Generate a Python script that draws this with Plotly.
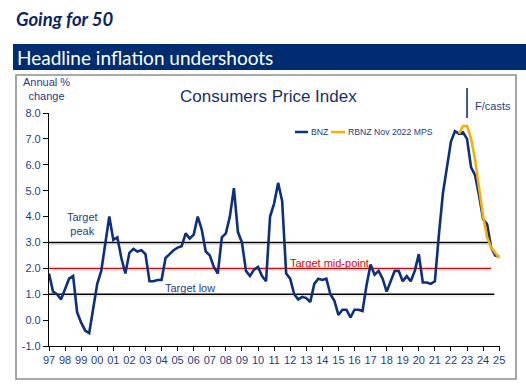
import plotly.graph_objects as go

# ---------------- data ----------------
bnz_start_year = 1997
bnz_values = [
    1.8, 1.1, 1.0, 0.8,      # 1997
    1.2, 1.6, 1.7, 0.3,      # 1998
    -0.1, -0.4, -0.5, 0.4,   # 1999
    1.4, 1.9, 3.0, 4.0,      # 2000
    3.1, 3.2, 2.4, 1.8,      # 2001
    2.6, 2.75, 2.65, 2.7,    # 2002
    2.55, 1.5, 1.5, 1.55,    # 2003
    1.55, 2.4, 2.55, 2.7,    # 2004
    2.8, 2.85, 3.35, 3.15,   # 2005
    3.3, 4.0, 3.5, 2.65,     # 2006
    2.5, 2.05, 1.8, 3.2,     # 2007
    3.35, 4.0, 5.1, 3.4,     # 2008
    3.0, 1.9, 1.7, 1.95,     # 2009
    2.05, 1.7, 1.5, 4.0,     # 2010
    4.5, 5.3, 4.6, 1.8,      # 2011
    1.6, 1.0, 0.8, 0.9,      # 2012
    0.85, 0.7, 1.4, 1.6,     # 2013
    1.55, 1.6, 1.0, 0.75,    # 2014
    0.2, 0.4, 0.4, 0.1,      # 2015
    0.4, 0.4, 0.35, 1.35,    # 2016
    2.15, 1.75, 1.9, 1.6,    # 2017
    1.1, 1.5, 1.9, 1.9,      # 2018
    1.5, 1.7, 1.5, 1.9,      # 2019
    2.55, 1.45, 1.45, 1.4,   # 2020
    1.5, 3.3, 4.9, 5.9,      # 2021
    6.9, 7.3, 7.2, 7.25,     # 2022
    7.0, 5.9, 5.6, 4.8,      # 2023
    3.9, 3.7, 2.8, 2.5,      # 2024
    2.45,                    # 2025
]

rbnz_start = (2022, 3)  # year, quarter
rbnz_values = [7.2, 7.5, 7.5, 7.0, 6.2, 5.1, 4.0, 3.2, 2.8, 2.6, 2.4]

target_peak = 3.0
target_mid = 2.0
target_low = 1.0

year_ticks = list(range(1997, 2026))
year_labels = [f"{y % 100:02d}" for y in year_ticks]
y_ticks = [-1, 0, 1, 2, 3, 4, 5, 6, 7, 8]
y_labels = ["-1.0", "0.0", "1.0", "2.0", "3.0", "4.0", "5.0", "6.0", "7.0", "8.0"]
forecast_start = 2023.0

# quarter-start positions
bnz_x = [bnz_start_year + 0.25 * i for i in range(len(bnz_values))]
rbnz_x = [rbnz_start[0] + 0.25 * (rbnz_start[1] - 1) + 0.25 * i for i in range(len(rbnz_values))]

# ---------------- geometry helpers ----------------
W, H = 526, 386
L, R, T, B = 49, 26, 113, 40
PW = W - L - R
PH = H - T - B


def px_x(px):
    return (px - L) / PW


def px_y(py):
    return (H - B - py) / PH


NAVY = "#0C2F7E"
ORANGE = "#F9AE00"
TXT = "#1F3C88"
RED = "#E00000"
FONT = "Liberation Sans, Arial, sans-serif"

fig = go.Figure()

# target lines (with faint shadow)
for lvl, col, xend in [(target_peak, "#000000", 2024.5), (target_low, "#000000", 2024.7),
                       (target_mid, RED, 2024.5)]:
    shadow = "#dcdcdc" if col == "#000000" else "#f9d0d0"
    fig.add_shape(type="line", xref="x", yref="y", x0=1997, x1=xend,
                  y0=lvl - 0.07, y1=lvl - 0.07, line=dict(color=shadow, width=1.0), layer="below")
    fig.add_shape(type="line", xref="x", yref="y", x0=1997, x1=xend,
                  y0=lvl, y1=lvl, line=dict(color=col, width=1.4), layer="below")

fig.add_trace(go.Scatter(x=bnz_x, y=bnz_values, mode="lines", name="BNZ",
                         line=dict(color=NAVY, width=2.6), showlegend=False,
                         cliponaxis=False))
fig.add_trace(go.Scatter(x=rbnz_x, y=rbnz_values, mode="lines", name="RBNZ Nov 2022 MPS",
                         line=dict(color=ORANGE, width=2.6), showlegend=False,
                         cliponaxis=False))

# banner + frame
fig.add_shape(type="rect", xref="paper", yref="paper", x0=px_x(13), x1=px_x(527),
              y0=px_y(70), y1=px_y(44), fillcolor="#002D72", line=dict(width=0), layer="below")
fig.add_shape(type="rect", xref="paper", yref="paper", x0=px_x(16), x1=px_x(516),
              y0=px_y(379), y1=px_y(75), line=dict(color="#8f8f8f", width=1.6), layer="below")

# forecast marker
fig.add_shape(type="line", xref="x", yref="paper", x0=forecast_start, x1=forecast_start,
              y0=px_y(118), y1=px_y(88), line=dict(color=NAVY, width=1.6))

# legend samples
fig.add_shape(type="line", xref="paper", yref="paper", x0=px_x(295), x1=px_x(308),
              y0=px_y(132), y1=px_y(132), line=dict(color=NAVY, width=2.5))
fig.add_shape(type="line", xref="paper", yref="paper", x0=px_x(331), x1=px_x(345),
              y0=px_y(132), y1=px_y(132), line=dict(color=ORANGE, width=2.5))


def ann(text, x, y, size=11, color=TXT, xanchor="left", family=FONT, align="left"):
    fig.add_annotation(text=text, xref="paper", yref="paper", x=px_x(x), y=px_y(y),
                       xanchor=xanchor, yanchor="middle", showarrow=False, align=align,
                       font=dict(size=size, color=color, family=family))


ann("<b><i>Going for 50</i></b>", 14, 19, size=18.5, color="#0B2466", family="Lato, sans-serif")
ann("Headline inflation undershoots", 15, 57, size=19, color="#FFFFFF", family="Lato, sans-serif")
ann("Annual %<br>change", 46, 89, size=11, xanchor="center", align="center")
ann("Consumers Price Index", 268, 96, size=17, color="#17306B", xanchor="center")
ann("BNZ", 309, 132, size=8.7)
ann("RBNZ Nov 2022 MPS", 346, 132, size=8.7)
ann("F/casts", 473, 106, size=11)
ann("Target<br>peak", 82, 224, size=11, xanchor="center", align="center")
ann("Target low", 163, 288, size=11)
ann("Target mid-point", 288, 263, size=11, color=RED)

fig.update_layout(
    width=W, height=H, autosize=False,
    margin=dict(l=L, r=R, t=T, b=B, pad=0),
    paper_bgcolor="white", plot_bgcolor="white",
    showlegend=False,
    xaxis=dict(range=[1997, 2025.05], tickvals=year_ticks, ticktext=year_labels,
               ticks="outside", ticklen=4, tickcolor="black", tickwidth=1,
               showline=True, linecolor="black", linewidth=1.2,
               showgrid=False, zeroline=False,
               tickfont=dict(size=11, color=TXT, family=FONT)),
    yaxis=dict(range=[-1, 8], tickvals=y_ticks, ticktext=y_labels,
               ticks="outside", ticklen=5, tickcolor="black", tickwidth=1,
               showline=True, linecolor="black", linewidth=1.2,
               showgrid=False, zeroline=False,
               tickfont=dict(size=11, color=TXT, family=FONT)),
)

fig.write_html(
    "out.html",
    config={"displayModeBar": False},
    post_script="document.body.style.margin='0px';document.body.style.overflow='hidden';",
)
